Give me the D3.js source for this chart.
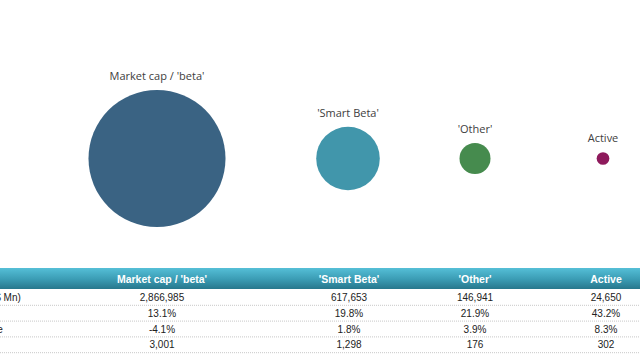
<!DOCTYPE html>
<html>
<head>
<meta charset="utf-8">
<script src="https://cdn.jsdelivr.net/npm/d3@7/dist/d3.min.js"></script>
<style>
  html, body { margin: 0; padding: 0; background: #fff; }
  svg { display: block; }
</style>
</head>
<body>
<svg id="chart" width="640" height="360"></svg>
<script>
// ---- data ----
const categories = ["Market cap / 'beta'", "'Smart Beta'", "'Other'", "Active"];
const aum = [2866985, 617653, 146941, 24650];
const growth = [13.1, 19.8, 21.9, 43.2];
const performance = [-4.1, 1.8, 3.9, 8.3];
const funds = [3001, 1298, 176, 302];
const rowLabels = ["AUM (US$ Mn)", "Growth", "1Y Change", "Funds"];
const colors = ["#3a6383", "#4196ab", "#468b4e", "#8e1a5c"];

// ---- layout ----
const W = 640, H = 360;
const bubbleCenters = [157, 348, 475, 603];
const colCenters = [162, 349, 475, 606];
const bubbleY = 158.5;
const maxR = 68.5;
const headerTop = 268, headerBottom = 289, rowH = 15.8;

const svg = d3.select("#chart");
const xb = d3.scaleOrdinal().domain(categories).range(bubbleCenters);
const xc = d3.scaleOrdinal().domain(categories).range(colCenters);
const r = d3.scaleSqrt().domain([0, d3.max(aum)]).range([0, maxR]);
const color = d3.scaleOrdinal().domain(categories).range(colors);

const fontLbl = "'Open Sans', 'Liberation Sans', sans-serif";
const fontTbl = "'Liberation Sans', Arial, sans-serif";

// bubbles
const bubbles = categories.map((c, i) => ({ name: c, value: aum[i] }));
svg.append("g").selectAll("circle").data(bubbles).join("circle")
  .attr("cx", d => xb(d.name))
  .attr("cy", bubbleY)
  .attr("r", d => r(d.value))
  .attr("fill", d => color(d.name));

svg.append("g").selectAll("text").data(bubbles).join("text")
  .attr("x", d => xb(d.name))
  .attr("y", d => bubbleY - r(d.value) - 10)
  .attr("text-anchor", "middle")
  .attr("font-family", fontLbl)
  .attr("font-size", 11)
  .attr("fill", "#404040")
  .text(d => d.name);

// table header
const defs = svg.append("defs");
const grad = defs.append("linearGradient").attr("id", "hdr").attr("x1", 0).attr("y1", 0).attr("x2", 0).attr("y2", 1);
grad.append("stop").attr("offset", "0%").attr("stop-color", "#55bfd7");
grad.append("stop").attr("offset", "55%").attr("stop-color", "#3a9bb3");
grad.append("stop").attr("offset", "100%").attr("stop-color", "#27778c");

svg.append("rect").attr("x", 0).attr("y", headerTop).attr("width", W)
  .attr("height", headerBottom - headerTop).attr("fill", "url(#hdr)");

svg.append("g").selectAll("text").data(categories).join("text")
  .attr("x", d => xc(d))
  .attr("y", headerTop + 15)
  .attr("text-anchor", "middle")
  .attr("font-family", fontTbl)
  .attr("font-weight", "bold")
  .attr("font-size", 10.5)
  .attr("fill", "#ffffff")
  .text(d => d);

// table body
const loc = d3.formatLocale({ decimal: ".", thousands: ",", grouping: [3], currency: ["$", ""], minus: "-" });
const fmtInt = loc.format(",");
const fmtPct = v => loc.format(".1f")(v) + "%";
const rows = [
  aum.map(fmtInt),
  growth.map(fmtPct),
  performance.map(fmtPct),
  funds.map(fmtInt)
];

const body = svg.append("g");
rows.forEach((vals, ri) => {
  const y0 = headerBottom + ri * rowH;
  body.append("text")
    .attr("x", -47)
    .attr("y", y0 + 12)
    .attr("font-family", fontTbl)
    .attr("font-size", 10)
    .attr("fill", "#222")
    .text(rowLabels[ri]);
  body.selectAll(null).data(vals).join("text")
    .attr("x", (d, i) => xc(categories[i]))
    .attr("y", y0 + 12)
    .attr("text-anchor", "middle")
    .attr("font-family", fontTbl)
    .attr("font-size", 10)
    .attr("fill", "#222")
    .text(d => d);
  body.append("line")
    .attr("x1", 0).attr("x2", W)
    .attr("y1", y0 + rowH + 0.5).attr("y2", y0 + rowH + 0.5)
    .attr("stroke", "#c8c8c8")
    .attr("stroke-width", 1)
    .attr("stroke-dasharray", "1,1");
});
</script>
</body>
</html>
